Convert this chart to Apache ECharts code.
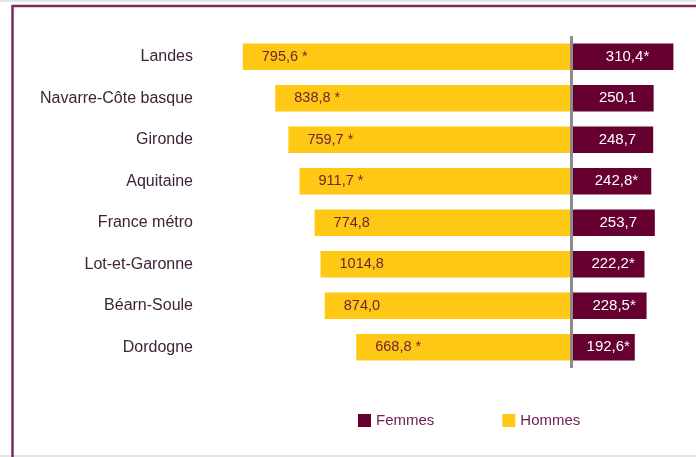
<!DOCTYPE html>
<html>
<head>
<meta charset="utf-8">
<script src="https://cdn.jsdelivr.net/npm/echarts@6/dist/echarts.min.js"></script>
<style>
html,body{margin:0;padding:0;background:#fff;}
#c{width:696px;height:457px;}
</style>
</head>
<body>
<div id="c"></div>
<script>
const categories = ['Landes','Navarre-Côte basque','Gironde','Aquitaine','France métro','Lot-et-Garonne','Béarn-Soule','Dordogne'];
const femmesValues = [310.4,250.1,248.7,242.8,253.7,222.2,228.5,192.6];
const femmesLabels = ['310,4*','250,1','248,7','242,8*','253,7','222,2*','228,5*','192,6*'];
// Hommes bar lengths as drawn in the picture (labels differ from the drawn lengths)
const hommesValues = [1003,904,864,830,784,766,753,657];
const hommesLabels = ['795,6 *','838,8 *','759,7 *','911,7 *','774,8','1014,8','874,0','668,8 *'];
const seriesNames = ['Femmes','Hommes'];

const FONT = '"Liberation Sans", Arial, sans-serif';
const chart = echarts.init(document.getElementById('c'), null, {renderer:'canvas'});
chart.setOption({
  animation:false,
  backgroundColor:'#fff',
  graphic:[
    {type:'line', shape:{x1:0,y1:1,x2:696,y2:1}, style:{stroke:'#e4e4e4',lineWidth:2}, z:-1},
    {type:'line', shape:{x1:0,y1:456,x2:696,y2:456}, style:{stroke:'#e4e4e4',lineWidth:2}, z:-1},
    {type:'polyline', shape:{points:[[12.5,460],[12.5,6],[700,6]]}, style:{stroke:'#7b2a57',lineWidth:2.5,fill:null}, z:-1}
  ],
  legend:{
    data:seriesNames,
    left:358, top:413, padding:0,
    itemWidth:13, itemHeight:13, itemGap:68,
    icon:'rect',
    textStyle:{fontFamily:FONT,fontSize:15,color:'#6e2450'}
  },
  grid:{left:211,right:9.6,top:36,bottom:89,containLabel:false},
  xAxis:{type:'value',min:-1100,max:350,show:false},
  yAxis:{
    type:'category',data:categories,inverse:true,
    axisLine:{show:false},axisTick:{show:false},
    axisLabel:{margin:18,fontFamily:FONT,fontSize:16,color:'#3d2438'}
  },
  series:[
    {
      name:'Hommes',type:'bar',barWidth:26.5,barGap:'-100%',
      data:hommesValues.map(v=>-v),
      itemStyle:{color:'#fec814'},
      label:{show:true,position:'insideLeft',distance:19,
        formatter:p=>hommesLabels[p.dataIndex],
        fontFamily:FONT,fontSize:14.5,color:'#6e1f35'}
    },
    {
      name:'Femmes',type:'bar',barWidth:26.5,barGap:'-100%',
      data:femmesValues,
      itemStyle:{color:'#650030'},
      label:{show:true,position:'inside',offset:[5,0],
        formatter:p=>femmesLabels[p.dataIndex],
        fontFamily:FONT,fontSize:15,color:'#fff'},
      markLine:{silent:true,symbol:'none',label:{show:false},
        lineStyle:{color:'#8c8c8c',width:3,type:'solid'},
        data:[{xAxis:0}]}
    }
  ]
});
</script>
</body>
</html>
